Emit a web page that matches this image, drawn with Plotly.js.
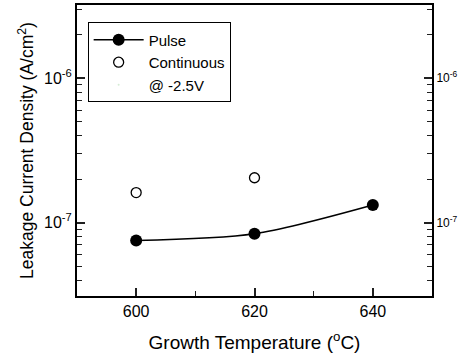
<!DOCTYPE html>
<html><head><meta charset="utf-8">
<script src="https://cdn.plot.ly/plotly-3.0.1.min.js"></script>
<style>html,body{margin:0;padding:0;background:#fff}#c{width:463px;height:358px}</style>
</head><body><div id="c"></div>
<script>
const temps = [600, 620, 640];
const pulse = [7.5e-8, 8.35e-8, 1.32e-7];
const contTemps = [600, 620];
const continuous = [1.61e-7, 2.04e-7];
const majorX = [600, 620, 640];
const minorX = [610, 630];
const majorY = [1e-7, 1e-6];
const majorYText = ['10<sup>-7</sup>', '10<sup>-6</sup>'];

const minorY = [];
[1e-8, 1e-7, 1e-6].forEach(d => { for (let k = 2; k <= 9; k++) minorY.push(k * d); });

const F = 'Arial, "Liberation Sans", sans-serif';
const traces = [
  {x: temps, y: pulse, name: 'Pulse', type: 'scatter', mode: 'lines+markers',
   line: {color: '#000', width: 1.6, shape: 'spline', smoothing: 0.8},
   marker: {color: '#000', size: 12, symbol: 'circle'}},
  {x: contTemps, y: continuous, name: 'Continuous', type: 'scatter', mode: 'markers',
   marker: {color: '#fff', size: 10, symbol: 'circle', line: {color: '#000', width: 1.3}}},
  {x: [null], y: [null], name: '@ -2.5V', type: 'scatter', mode: 'markers',
   marker: {size: 1, opacity: 0}, hoverinfo: 'skip'},
  {x: [null], y: [null], yaxis: 'y2', showlegend: false, type: 'scatter', mode: 'markers'}
];
const yr = [Math.log10(3.1e-8), Math.log10(3.2e-6)];
const tk = {ticks: 'inside', tickcolor: 'rgb(32,32,32)', ticklen: 8, tickwidth: 2, tickmode: 'array'};
const mn = {ticks: 'inside', tickcolor: 'rgb(32,32,32)', ticklen: 5, tickwidth: 1, tickmode: 'array'};
const layout = {
  width: 463, height: 358,
  margin: {l: 77, r: 31, t: 5, b: 62},
  paper_bgcolor: '#fff', plot_bgcolor: '#fff',
  font: {family: F, color: '#000', size: 15},
  showlegend: true,
  legend: {x: 0.03, y: 0.94, xanchor: 'left', yanchor: 'top',
    bordercolor: '#000', borderwidth: 1, bgcolor: '#fff',
    font: {family: F, size: 15, color: '#000'}, itemwidth: 50, tracegroupgap: 0},
  xaxis: Object.assign({range: [590, 650], tickvals: majorX,
    showline: true, linecolor: '#000', linewidth: 2, mirror: true,
    showgrid: false, zeroline: false, tickfont: {family: F, size: 16},
    minor: Object.assign({tickvals: minorX}, mn),
    title: {text: 'Growth Temperature (<sup>o</sup>C)', font: {family: F, size: 19}, standoff: 16}}, tk),
  yaxis: Object.assign({type: 'log', range: yr, tickvals: majorY, ticktext: majorYText,
    showline: true, linecolor: '#000',
    linewidth: 2, showgrid: false, zeroline: false, tickfont: {family: F, size: 16},
    minor: Object.assign({tickvals: minorY}, mn),
    title: {text: 'Leakage Current Density (A/cm<sup>2</sup>)', font: {family: F, size: 17.5}, standoff: 6}}, tk),
  yaxis2: Object.assign({type: 'log', range: yr, overlaying: 'y', side: 'right', tickvals: majorY,
    ticktext: majorYText, showline: true,
    linecolor: '#000', linewidth: 2, showgrid: false, zeroline: false,
    tickfont: {family: F, size: 12},
    minor: Object.assign({tickvals: minorY}, mn)}, tk)
};
Plotly.newPlot('c', traces, layout, {staticPlot: true, displayModeBar: false});
</script></body></html>
